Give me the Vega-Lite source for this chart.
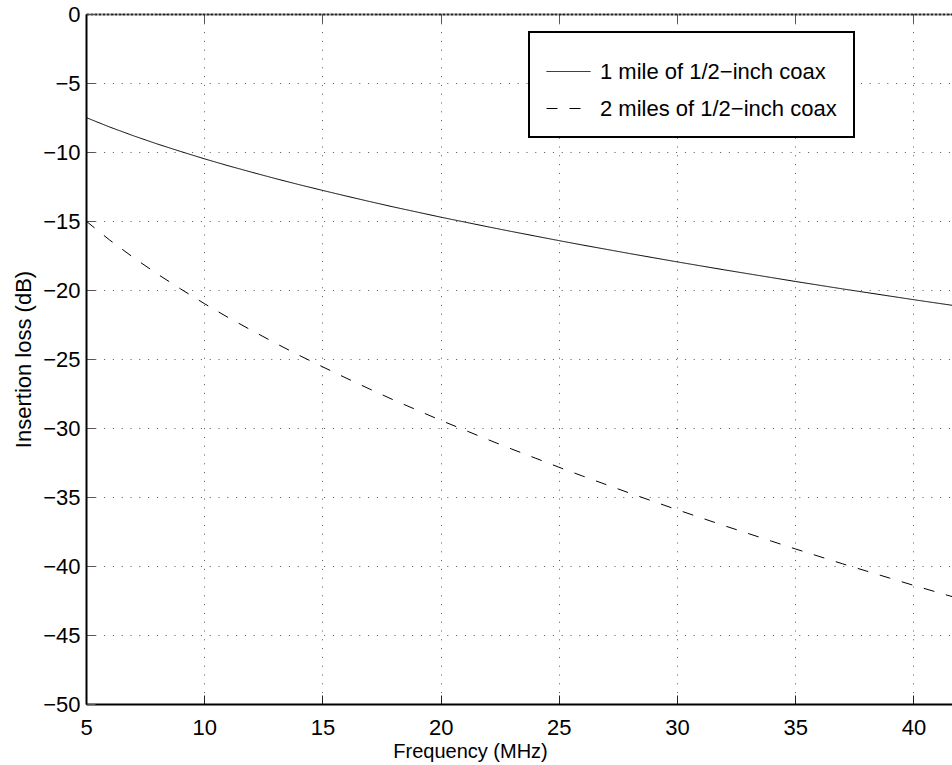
{
  "$schema": "https://vega.github.io/schema/vega-lite/v6.json",
  "width": 866,
  "height": 690,
  "autosize": {"type": "none"},
  "padding": {"left": 86, "top": 14, "right": 0, "bottom": 61},
  "background": "white",
  "config": {
    "view": {"stroke": null},
    "font": "Liberation Sans",
    "legend": {"strokeWidth": 2}
  },
  "data": {
    "values": [
      {"f": 5, "loss": -7.5, "s": "1 mile of 1/2−inch coax"},
      {"f": 6, "loss": -8.19, "s": "1 mile of 1/2−inch coax"},
      {"f": 7, "loss": -8.82, "s": "1 mile of 1/2−inch coax"},
      {"f": 8, "loss": -9.41, "s": "1 mile of 1/2−inch coax"},
      {"f": 9, "loss": -9.96, "s": "1 mile of 1/2−inch coax"},
      {"f": 10, "loss": -10.49, "s": "1 mile of 1/2−inch coax"},
      {"f": 11, "loss": -10.99, "s": "1 mile of 1/2−inch coax"},
      {"f": 12, "loss": -11.46, "s": "1 mile of 1/2−inch coax"},
      {"f": 13, "loss": -11.92, "s": "1 mile of 1/2−inch coax"},
      {"f": 14, "loss": -12.36, "s": "1 mile of 1/2−inch coax"},
      {"f": 15, "loss": -12.78, "s": "1 mile of 1/2−inch coax"},
      {"f": 16, "loss": -13.19, "s": "1 mile of 1/2−inch coax"},
      {"f": 17, "loss": -13.59, "s": "1 mile of 1/2−inch coax"},
      {"f": 18, "loss": -13.98, "s": "1 mile of 1/2−inch coax"},
      {"f": 19, "loss": -14.35, "s": "1 mile of 1/2−inch coax"},
      {"f": 20, "loss": -14.72, "s": "1 mile of 1/2−inch coax"},
      {"f": 21, "loss": -15.07, "s": "1 mile of 1/2−inch coax"},
      {"f": 22, "loss": -15.42, "s": "1 mile of 1/2−inch coax"},
      {"f": 23, "loss": -15.76, "s": "1 mile of 1/2−inch coax"},
      {"f": 24, "loss": -16.09, "s": "1 mile of 1/2−inch coax"},
      {"f": 25, "loss": -16.42, "s": "1 mile of 1/2−inch coax"},
      {"f": 26, "loss": -16.74, "s": "1 mile of 1/2−inch coax"},
      {"f": 27, "loss": -17.05, "s": "1 mile of 1/2−inch coax"},
      {"f": 28, "loss": -17.36, "s": "1 mile of 1/2−inch coax"},
      {"f": 29, "loss": -17.66, "s": "1 mile of 1/2−inch coax"},
      {"f": 30, "loss": -17.96, "s": "1 mile of 1/2−inch coax"},
      {"f": 31, "loss": -18.25, "s": "1 mile of 1/2−inch coax"},
      {"f": 32, "loss": -18.54, "s": "1 mile of 1/2−inch coax"},
      {"f": 33, "loss": -18.82, "s": "1 mile of 1/2−inch coax"},
      {"f": 34, "loss": -19.1, "s": "1 mile of 1/2−inch coax"},
      {"f": 35, "loss": -19.38, "s": "1 mile of 1/2−inch coax"},
      {"f": 36, "loss": -19.65, "s": "1 mile of 1/2−inch coax"},
      {"f": 37, "loss": -19.92, "s": "1 mile of 1/2−inch coax"},
      {"f": 38, "loss": -20.18, "s": "1 mile of 1/2−inch coax"},
      {"f": 39, "loss": -20.44, "s": "1 mile of 1/2−inch coax"},
      {"f": 40, "loss": -20.7, "s": "1 mile of 1/2−inch coax"},
      {"f": 41, "loss": -20.95, "s": "1 mile of 1/2−inch coax"},
      {"f": 42, "loss": -21.2, "s": "1 mile of 1/2−inch coax"},
      {"f": 5, "loss": -15.0, "s": "2 miles of 1/2−inch coax"},
      {"f": 6, "loss": -16.38, "s": "2 miles of 1/2−inch coax"},
      {"f": 7, "loss": -17.64, "s": "2 miles of 1/2−inch coax"},
      {"f": 8, "loss": -18.82, "s": "2 miles of 1/2−inch coax"},
      {"f": 9, "loss": -19.92, "s": "2 miles of 1/2−inch coax"},
      {"f": 10, "loss": -20.98, "s": "2 miles of 1/2−inch coax"},
      {"f": 11, "loss": -21.98, "s": "2 miles of 1/2−inch coax"},
      {"f": 12, "loss": -22.92, "s": "2 miles of 1/2−inch coax"},
      {"f": 13, "loss": -23.84, "s": "2 miles of 1/2−inch coax"},
      {"f": 14, "loss": -24.72, "s": "2 miles of 1/2−inch coax"},
      {"f": 15, "loss": -25.56, "s": "2 miles of 1/2−inch coax"},
      {"f": 16, "loss": -26.38, "s": "2 miles of 1/2−inch coax"},
      {"f": 17, "loss": -27.18, "s": "2 miles of 1/2−inch coax"},
      {"f": 18, "loss": -27.96, "s": "2 miles of 1/2−inch coax"},
      {"f": 19, "loss": -28.7, "s": "2 miles of 1/2−inch coax"},
      {"f": 20, "loss": -29.44, "s": "2 miles of 1/2−inch coax"},
      {"f": 21, "loss": -30.14, "s": "2 miles of 1/2−inch coax"},
      {"f": 22, "loss": -30.84, "s": "2 miles of 1/2−inch coax"},
      {"f": 23, "loss": -31.52, "s": "2 miles of 1/2−inch coax"},
      {"f": 24, "loss": -32.18, "s": "2 miles of 1/2−inch coax"},
      {"f": 25, "loss": -32.84, "s": "2 miles of 1/2−inch coax"},
      {"f": 26, "loss": -33.48, "s": "2 miles of 1/2−inch coax"},
      {"f": 27, "loss": -34.1, "s": "2 miles of 1/2−inch coax"},
      {"f": 28, "loss": -34.72, "s": "2 miles of 1/2−inch coax"},
      {"f": 29, "loss": -35.32, "s": "2 miles of 1/2−inch coax"},
      {"f": 30, "loss": -35.92, "s": "2 miles of 1/2−inch coax"},
      {"f": 31, "loss": -36.5, "s": "2 miles of 1/2−inch coax"},
      {"f": 32, "loss": -37.08, "s": "2 miles of 1/2−inch coax"},
      {"f": 33, "loss": -37.64, "s": "2 miles of 1/2−inch coax"},
      {"f": 34, "loss": -38.2, "s": "2 miles of 1/2−inch coax"},
      {"f": 35, "loss": -38.76, "s": "2 miles of 1/2−inch coax"},
      {"f": 36, "loss": -39.3, "s": "2 miles of 1/2−inch coax"},
      {"f": 37, "loss": -39.84, "s": "2 miles of 1/2−inch coax"},
      {"f": 38, "loss": -40.36, "s": "2 miles of 1/2−inch coax"},
      {"f": 39, "loss": -40.88, "s": "2 miles of 1/2−inch coax"},
      {"f": 40, "loss": -41.4, "s": "2 miles of 1/2−inch coax"},
      {"f": 41, "loss": -41.9, "s": "2 miles of 1/2−inch coax"},
      {"f": 42, "loss": -42.4, "s": "2 miles of 1/2−inch coax"}
    ]
  },
  "layer": [
    {
      "mark": {"type": "line", "color": "black", "strokeWidth": 1, "clip": true},
      "encoding": {
        "x": {
          "field": "f", "type": "quantitative",
          "scale": {"domain": [5, 41.63], "nice": false, "zero": false},
          "axis": {
            "orient": "bottom",
            "values": [5, 10, 15, 20, 25, 30, 35, 40],
            "grid": true, "gridColor": "#555", "gridDash": [1, 7.8], "gridWidth": 1,
            "domainColor": "black", "domainWidth": 2,
            "tickColor": "#222", "tickSize": -9, "tickWidth": 1,
            "labelFont": "Liberation Sans", "labelFontSize": 22, "labelColor": "black",
            "labelPadding": 22, "labelFlush": false, "labelOverlap": false,
            "title": "Frequency (MHz)", "titleFont": "Liberation Sans", "titleFontSize": 20,
            "titleFontWeight": "normal", "titleColor": "black",
            "titleX": 384, "titleY": 53, "titleBaseline": "alphabetic", "titleAlign": "center"
          }
        },
        "y": {
          "field": "loss", "type": "quantitative",
          "scale": {"domain": [-50, 0], "nice": false, "zero": false},
          "axis": {
            "values": [0, -5, -10, -15, -20, -25, -30, -35, -40, -45, -50],
            "grid": true, "gridColor": "#555", "gridDash": [1, 7.8], "gridWidth": 1,
            "domainColor": "black", "domainWidth": 2,
            "tickColor": "#555", "tickSize": -9, "tickWidth": 1,
            "labelFont": "Liberation Sans", "labelFontSize": 22, "labelColor": "black",
            "labelPadding": 15, "labelFlush": false, "labelOverlap": false,
            "title": "Insertion loss (dB)", "titleFont": "Liberation Sans", "titleFontSize": 22,
            "titleFontWeight": "normal", "titleColor": "black",
            "titleX": -56, "titleY": 345, "titleBaseline": "alphabetic", "titleAlign": "center", "titleAngle": -90
          }
        },
        "strokeDash": {
          "field": "s", "type": "nominal",
          "scale": {"domain": ["1 mile of 1/2−inch coax", "2 miles of 1/2−inch coax"], "range": [[1, 0], [11, 12]]},
          "legend": {
            "orient": "none", "legendX": 443, "legendY": 18, "title": null,
            "strokeColor": "black", "fillColor": "white", "padding": 17,
            "symbolType": "stroke", "symbolSize": 1936, "symbolStrokeColor": "black", "symbolStrokeWidth": 1,
            "labelFont": "Liberation Sans", "labelFontSize": 22, "labelColor": "black", "labelOffset": 9,
            "rowPadding": 3, "labelLimit": 500
          }
        }
      }
    },
    {
      "mark": {"type": "line", "opacity": 0, "clip": true},
      "encoding": {
        "x": {
          "field": "f", "type": "quantitative",
          "axis": {
            "orient": "top", "values": [5, 10, 15, 20, 25, 30, 35, 40],
            "labels": false, "grid": false, "title": null,
            "domainColor": "#222", "domainWidth": 2, "domainDash": [3, 1],
            "tickColor": "#555", "tickSize": -9, "tickWidth": 1
          }
        },
        "y": {"field": "loss", "type": "quantitative"}
      }
    }
  ],
  "resolve": {"axis": {"x": "independent"}}
}
